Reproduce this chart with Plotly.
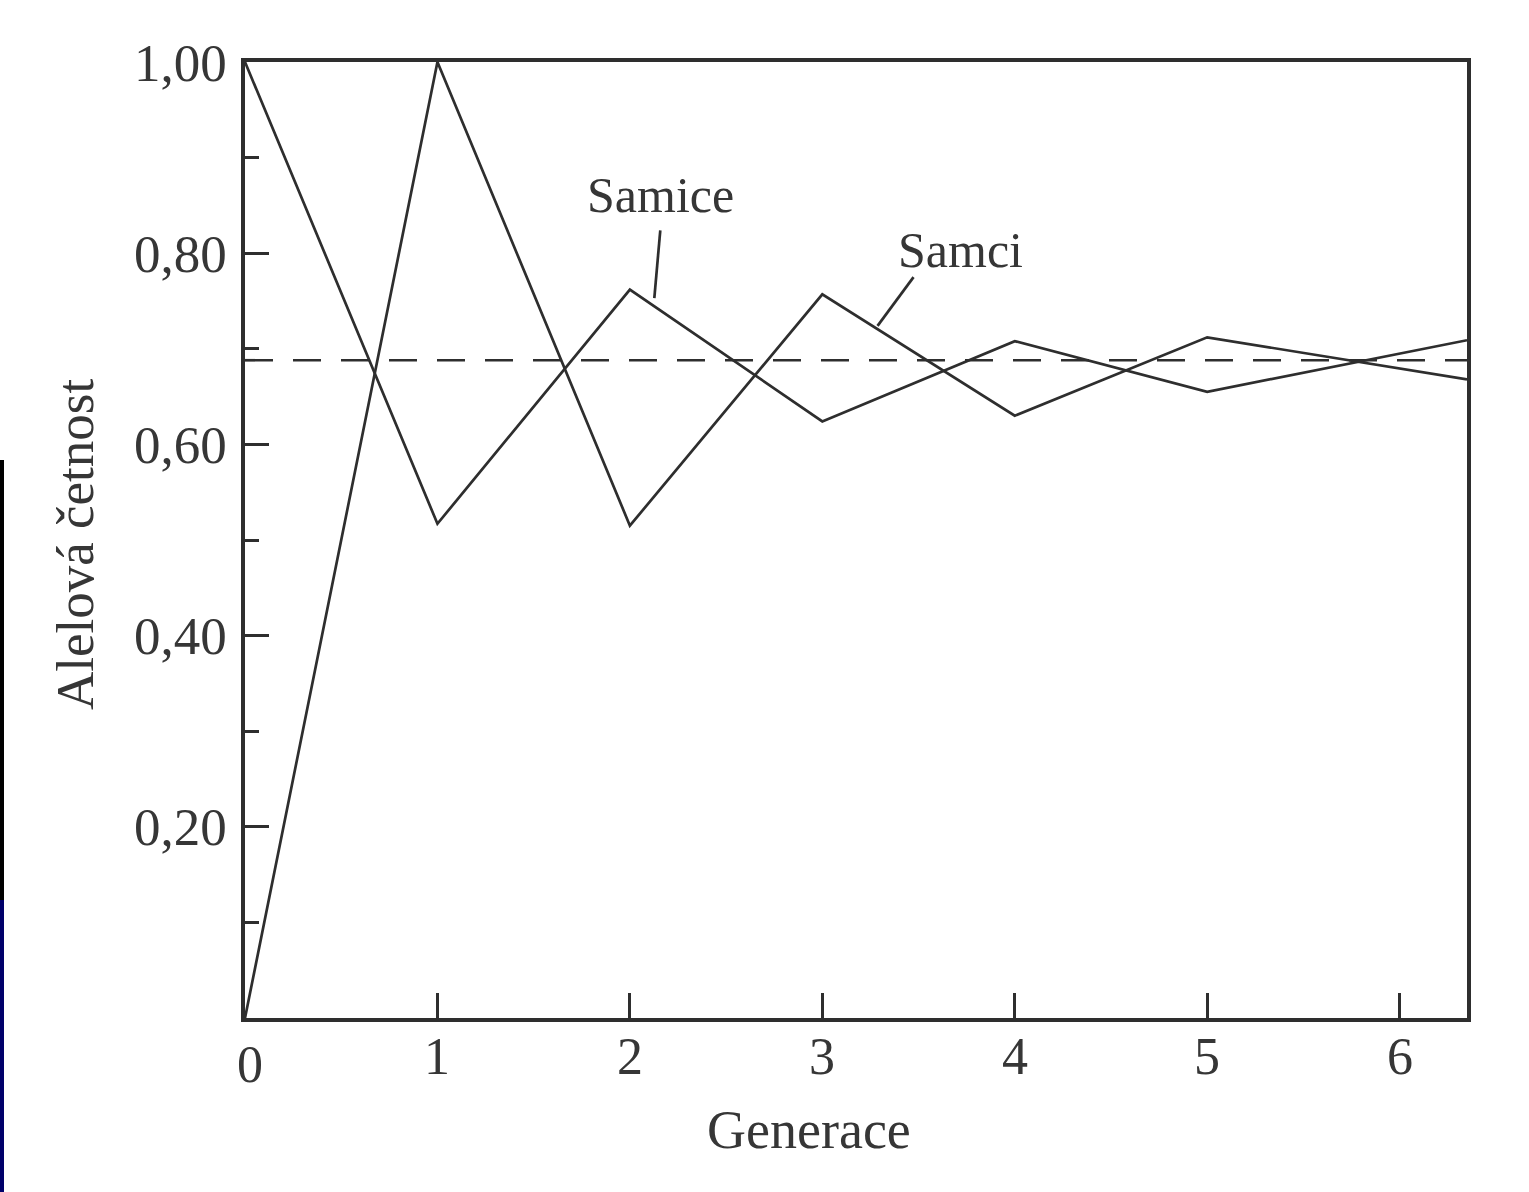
import plotly.graph_objects as go

# ---- data ----
x_points = [0, 1, 2, 3, 4, 5, 6.35]
samice = [1.00, 0.517, 0.762, 0.624, 0.708, 0.655, 0.709]
samci = [0.00, 1.00, 0.515, 0.757, 0.630, 0.712, 0.668]
equilibrium = 0.688

x_range = [0, 6.35]
x_ticks = [1, 2, 3, 4, 5, 6]
x_tick_labels = ["1", "2", "3", "4", "5", "6"]
y_ticks = [0.2, 0.4, 0.6, 0.8, 1.0]
y_tick_labels = ["0,20", "0,40", "0,60", "0,80", "1,00"]
y_minor_ticks = [0.1, 0.3, 0.5, 0.7, 0.9]

INK = "#363636"
LINE = "#2e2e2e"
FONT = "Liberation Serif"

W, H = 1529, 1192
ML, MR, MT, MB = 245, 62, 62, 174
PW, PH = W - ML - MR, H - MT - MB

fig = go.Figure()

fig.add_trace(go.Scatter(
    x=x_range, y=[equilibrium, equilibrium], mode="lines",
    line=dict(color=LINE, width=2.7, dash="28px,20px"),
    showlegend=False, hoverinfo="skip"))

fig.add_trace(go.Scatter(
    x=x_points, y=samice, mode="lines", name="Samice",
    line=dict(color=LINE, width=2.7), showlegend=False))

fig.add_trace(go.Scatter(
    x=x_points, y=samci, mode="lines", name="Samci",
    line=dict(color=LINE, width=2.7), showlegend=False))

# labels with pointer lines
fig.add_annotation(x=2.158, y=0.861, text="Samice", showarrow=False,
                   font=dict(family=FONT, size=50, color=INK))
fig.add_annotation(x=3.718, y=0.803, text="Samci", showarrow=False,
                   font=dict(family=FONT, size=50, color=INK))
fig.add_shape(type="line", x0=2.127, y0=0.753, x1=2.158, y1=0.824,
              line=dict(color=LINE, width=2.7))
fig.add_shape(type="line", x0=3.287, y0=0.724, x1=3.474, y1=0.775,
              line=dict(color=LINE, width=2.7))

# x tick labels (placed as text under each tick)
fig.add_annotation(x=0, y=0, text="0", showarrow=False, yshift=-46, xshift=5,
                   font=dict(family=FONT, size=52, color=INK))
for xv, lab in zip(x_ticks, x_tick_labels):
    fig.add_annotation(x=xv, y=0, text=lab, showarrow=False, yshift=-38,
                       font=dict(family=FONT, size=52, color=INK))

# axis titles
fig.add_annotation(xref="paper", yref="paper", x=(809 - ML) / PW, y=(1018 - 1130) / PH,
                   text="Generace", showarrow=False, xanchor="center", yanchor="middle",
                   font=dict(family=FONT, size=54, color=INK))
fig.add_annotation(xref="paper", yref="paper", x=(75 - ML) / PW, y=(1018 - 545) / PH,
                   text="Alelová četnost", showarrow=False, textangle=-90,
                   xanchor="center", yanchor="middle",
                   font=dict(family=FONT, size=53, color=INK))

# slide background strip at left edge
fig.add_shape(type="rect", xref="paper", yref="paper",
              x0=-ML / PW, x1=-(ML - 4) / PW, y0=(1018 - 900) / PH, y1=(1018 - 460) / PH,
              fillcolor="#000000", line=dict(width=0), layer="below")
fig.add_shape(type="rect", xref="paper", yref="paper",
              x0=-ML / PW, x1=-(ML - 4) / PW, y0=-MB / PH, y1=(1018 - 900) / PH,
              fillcolor="#00006a", line=dict(width=0), layer="below")

fig.update_layout(
    width=W, height=H,
    margin=dict(l=ML, r=MR, t=MT, b=MB),
    paper_bgcolor="white", plot_bgcolor="white",
    font=dict(family=FONT, color=INK),
)

fig.update_xaxes(
    range=x_range, showgrid=False, zeroline=False,
    showline=True, linecolor=LINE, linewidth=3.5, mirror=True,
    ticks="inside", ticklen=25, tickwidth=3, tickcolor=LINE,
    tickvals=x_ticks, showticklabels=False,
)
fig.update_yaxes(
    range=[0, 1], showgrid=False, zeroline=False,
    showline=True, linecolor=LINE, linewidth=3.5, mirror=True,
    ticks="inside", ticklen=24, tickwidth=3, tickcolor=LINE,
    tickvals=y_ticks, ticktext=y_tick_labels,
    minor=dict(tickvals=y_minor_ticks, ticks="inside", ticklen=14, tickwidth=3, tickcolor=LINE),
    tickfont=dict(family=FONT, size=53, color=INK), ticklabelstandoff=4,
)

fig.write_html("out.html", config={"displayModeBar": False},
               post_script="document.body.style.margin='0';")
